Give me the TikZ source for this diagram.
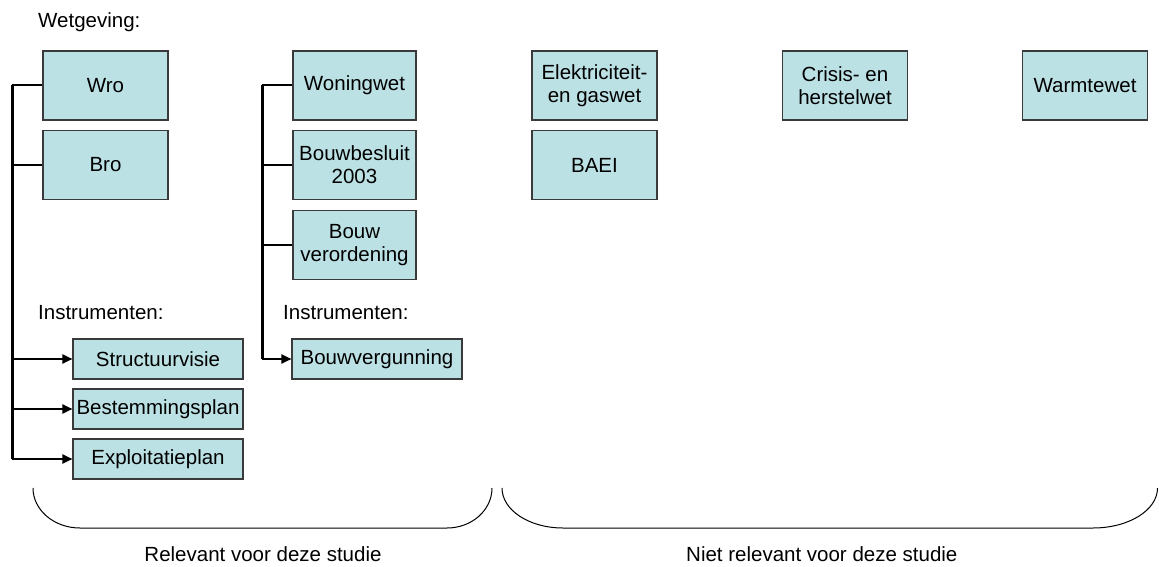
\documentclass[tikz,border=0pt]{standalone}
\usepackage{fontspec}
\setmainfont{Liberation Sans}
\usetikzlibrary{arrows.meta,positioning}
\definecolor{wetfill}{HTML}{BCE1E4}
\definecolor{wetline}{HTML}{3A3A3A}

\begin{document}
\begin{tikzpicture}[x=1pt, y=-1pt,
    every node/.style={font=\fontsize{20.5}{23}\selectfont, inner sep=1pt},
    wetbox/.style={rectangle, draw=wetline, line width=1.1pt, fill=wetfill,
        minimum width=125pt, minimum height=69pt, align=center},
    instbox/.style={rectangle, draw=wetline, line width=1.1pt, fill=wetfill,
        minimum width=170pt, minimum height=40pt, align=center},
    trunk/.style={line width=3pt},
    branch/.style={line width=2pt},
    feed/.style={line width=2pt, -{Triangle[length=10pt, width=9pt]}},
    brace/.style={line width=1pt},
]
\useasboundingbox (0,0) rectangle (1159,567);

% Heading
\node[anchor=base west] (wetgeving) at (37,27.5) {Wetgeving:};

% Ruimtelijke ordening
\node[wetbox] (wro) at (105.5,85.5) {Wro};
\node[wetbox] (bro) at (105.5,165) {Bro};
\node[anchor=base west] (instl) at (37,319.5) {Instrumenten:};
\node[instbox] (struct) at (158,359) {Structuurvisie};
\node[instbox] (bestem) at (158,409) {Bestemmingsplan};
\node[instbox] (exploit) at (158,459) {Exploitatieplan};

% Bouwen
\node[wetbox, minimum width=123pt] (woning) at (354.5,85.5) {Woningwet};
\node[wetbox, minimum width=123pt] (besluit) at (354.5,165) {Bouwbesluit\\2003};
\node[wetbox, minimum width=123pt] (verord) at (354.5,245) {Bouw\\verordening};
\node[anchor=base west] (instr) at (282,319.5) {Instrumenten:};
\node[instbox] (vergun) at (377,359) {Bouwvergunning};

% Niet relevant
\node[wetbox] (elek) at (594.5,85.5) {Elektriciteit-\\en gaswet};
\node[wetbox] (baei) at (594.5,165) {BAEI};
\node[wetbox] (crisis) at (845,85.5) {Crisis- en\\herstelwet};
\node[wetbox] (warmte) at (1085,85.5) {Warmtewet};

% Left tree
\coordinate (ltop) at (12,85.5);
\coordinate (lbot) at (12,459);
\draw[trunk] (ltop) -- (lbot);
\draw[branch] (ltop) -- (wro.west);
\draw[branch] (bro.west -| ltop) -- (bro.west);
\draw[feed] (struct.west -| ltop) -- (struct.west);
\draw[feed] (bestem.west -| ltop) -- (bestem.west);
\draw[feed] (lbot) -- (exploit.west);

% Right tree
\coordinate (rtop) at (262,85.5);
\coordinate (rbot) at (262,359);
\draw[trunk] (rtop) -- (rbot);
\draw[branch] (rtop) -- (woning.west);
\draw[branch] (besluit.west -| rtop) -- (besluit.west);
\draw[branch] (verord.west -| rtop) -- (verord.west);
\draw[feed] (rbot) -- (vergun.west);

% Braces
\draw[brace] (33,488) .. controls (33,510) and (54,528) .. (80,528) -- (447,528)
    .. controls (472,528) and (492,510) .. (492,488);
\draw[brace] (502,488) .. controls (502,510) and (529,528) .. (563,528) -- (1093,528)
    .. controls (1129,528) and (1157.5,510) .. (1157.5,488);
\node[anchor=base] (relevant) at (263,561) {Relevant voor deze studie};
\node[anchor=base west] (nietrel) at (685,561) {Niet relevant voor deze studie};

\end{tikzpicture}
\end{document}
